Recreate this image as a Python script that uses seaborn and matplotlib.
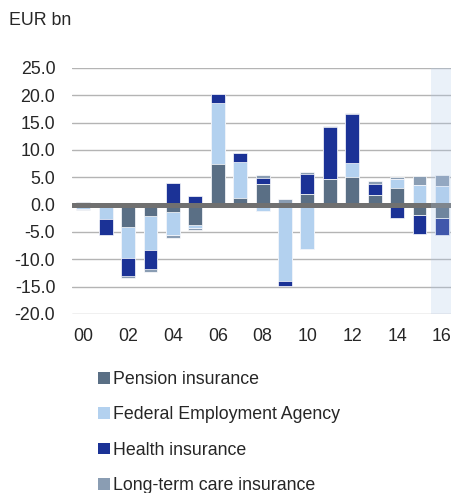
import numpy as np
import matplotlib
import matplotlib.pyplot as plt
from matplotlib.patches import Patch
import seaborn as sns

matplotlib.use('Agg')

# Data (EUR bn)
years = ['00', '01', '02', '03', '04', '05', '06', '07', '08',
         '09', '10', '11', '12', '13', '14', '15', '16']
pension = [0.5, 0.0, -4.1, -2.0, -1.4, -3.8, 7.4, 1.2, 3.7,
           0.0, 2.0, 4.7, 5.0, 1.8, 3.1, -1.95, -2.5]
federal_agency = [-0.8, -2.6, -5.7, -6.3, -4.1, -0.4, 11.2, 6.6, -1.1,
                  -13.9, -8.2, 0.0, 2.6, 0.0, 1.6, 3.65, 3.4]
health = [0.0, -2.9, -3.3, -3.5, 3.9, 1.6, 1.6, 1.7, 1.1,
          -1.0, 3.6, 9.45, 9.0, 2.0, -2.4, -3.5, -3.1]
care = [-0.2, -0.1, -0.4, -0.6, -0.6, -0.5, 0.0, 0.0, 0.7,
        1.1, 0.4, 0.3, 0.1, 0.55, 0.4, 1.65, 2.1]

series_names = ['Pension insurance', 'Federal Employment Agency',
                'Health insurance', 'Long-term care insurance']
series_colors = ['#5a6f85', '#b3d1ef', '#1b3296', '#8a9db3']
tick_labels = [y if i % 2 == 0 else '' for i, y in enumerate(years)]

sns.set_style('white')
plt.rcParams['font.family'] = ['Liberation Sans', 'DejaVu Sans']
plt.rcParams['font.size'] = 12.8

fig = plt.figure(figsize=(4.52, 4.93), dpi=100)
ax = fig.add_axes([72 / 452, 1 - 314 / 493, 380 / 452, 246 / 493])

# stack positives and negatives separately: draw cumulative totals from
# the outermost series inwards so inner series paint over outer ones
data = np.array([pension, federal_agency, health, care])
pos_cum = np.cumsum(np.clip(data, 0, None), axis=0)
neg_cum = np.cumsum(np.clip(data, None, 0), axis=0)
for k in range(len(series_names) - 1, -1, -1):
    for cum in (pos_cum[k], neg_cum[k]):
        sns.barplot(x=years, y=cum, order=years, color=series_colors[k],
                    saturation=1, width=0.62, edgecolor='white',
                    linewidth=0.5, ax=ax, zorder=2)

ax.axhline(0, color='#707070', lw=3.6, zorder=3)
# shaded forecast year
ax.axvspan(15.5, 16.6, color='#afc8eb', alpha=0.25, lw=0, zorder=4)

ax.set_ylim(-20, 25)
ax.set_xlim(-0.5, 16.45)
ax.set_yticks(np.arange(-20, 26, 5))
ax.set_yticklabels([f'{v:.1f}' for v in np.arange(-20, 26, 5)])
ax.set_xticks(range(len(years)))
ax.set_xticklabels(tick_labels)
ax.tick_params(axis='y', length=0, pad=12)
ax.tick_params(axis='x', length=0, pad=10)
ax.set_xlabel('')
ax.set_ylabel('')
ax.yaxis.grid(True, color='#b4b4b4', lw=1.0)
ax.set_axisbelow(True)
sns.despine(ax=ax, left=True, bottom=True)

fig.text(9 / 452, 1 - 25 / 493, 'EUR bn', va='baseline', ha='left')

handles = [Patch(facecolor=c, edgecolor='none') for c in series_colors]
fig.legend(handles, series_names, loc='upper left',
           bbox_to_anchor=(98 / 452, 1 - 371 / 493), frameon=False,
           borderpad=0, borderaxespad=0, handlelength=0.67, handleheight=0.62,
           handletextpad=0.15, labelspacing=1.04)

fig.savefig('out.png', dpi=100)
